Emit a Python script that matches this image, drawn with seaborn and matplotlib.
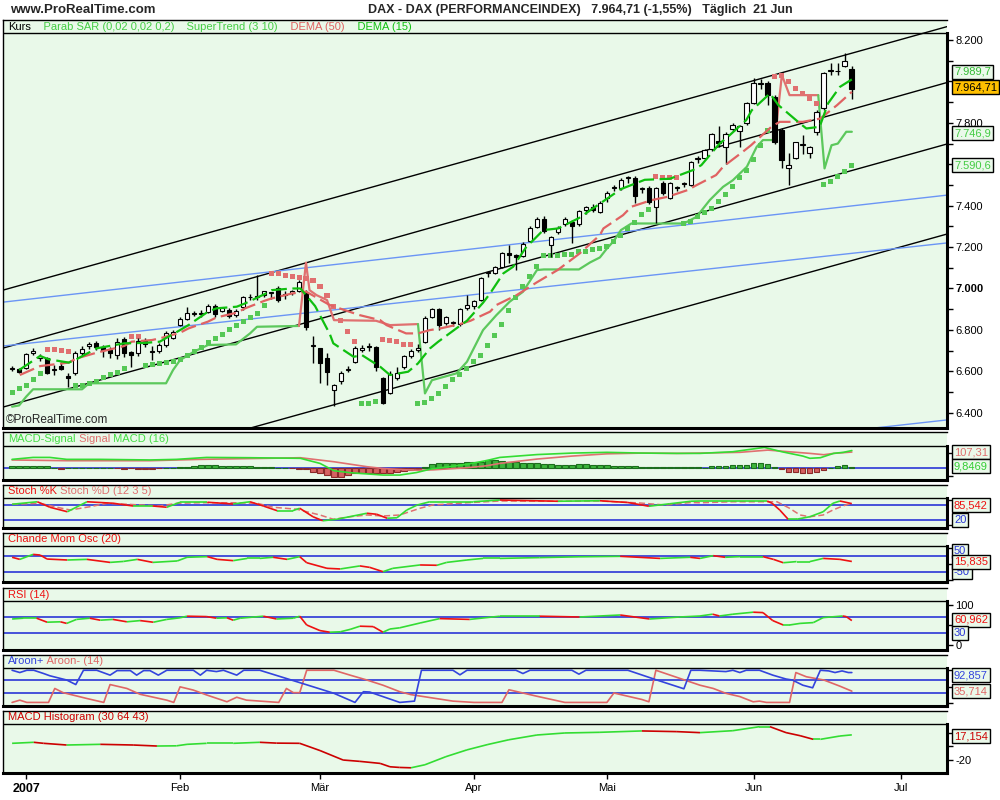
import numpy as np
import pandas as pd
import seaborn as sns
import matplotlib.pyplot as plt
from matplotlib.collections import LineCollection

# ---- candles, one per trading day: index 0 = 28 Dec 2006 ... index 120 = 21 Jun 2007
opens = [6610, 6612, 6616, 6690, 6662, 6664, 6606, 6625, 6577, 6590,
         6688, 6722, 6737, 6717, 6702, 6679, 6755, 6693, 6690, 6745,
         6692, 6700, 6725, 6762, 6823, 6852, 6877, 6877, 6886, 6915,
         6891, 6895, 6872, 6910, 6957, 6958, 6968, 6977, 7002, 6967,
         6980, 6990, 6983, 6722, 6712, 6664, 6509, 6553, 6605, 6645,
         6705, 6722, 6717, 6567, 6495, 6567, 6620, 6673, 6705, 6741,
         6862, 6900, 6833, 6833, 6828, 6905, 6915, 6944, 7075, 7075,
         7104, 7170, 7160, 7157, 7230, 7295, 7335, 7210, 7275, 7310,
         7320, 7310, 7380, 7392, 7370, 7437, 7485, 7485, 7533, 7533,
         7480, 7485, 7393, 7509, 7437, 7485, 7504, 7500, 7625, 7630,
         7673, 7712, 7683, 7770, 7760, 7800, 7896, 7987, 7992, 7925,
         7765, 7582, 7630, 7693, 7655, 7755, 7870, 8050, 8050, 8075,
         8060]
highs = [6625, 6618, 6690, 6712, 6685, 6670, 6630, 6645, 6590, 6700,
         6720, 6740, 6745, 6725, 6715, 6760, 6765, 6700, 6760, 6760,
         6720, 6735, 6795, 6800, 6860, 6910, 6890, 6895, 6925, 6925,
         6910, 6905, 6900, 6965, 6975, 7065, 6990, 6985, 7010, 6990,
         6995, 7040, 6995, 6770, 6712, 6690, 6540, 6600, 6625, 6720,
         6725, 6735, 6720, 6570, 6600, 6620, 6680, 6710, 6730, 6865,
         6905, 6905, 6865, 6845, 6905, 6968, 6945, 7055, 7085, 7110,
         7175, 7210, 7165, 7225, 7300, 7345, 7350, 7255, 7300, 7345,
         7330, 7380, 7400, 7410, 7425, 7470, 7500, 7535, 7545, 7545,
         7490, 7495, 7490, 7520, 7515, 7495, 7515, 7615, 7640, 7675,
         7750, 7785, 7755, 7800, 7790, 7900, 8016, 8010, 8000, 7935,
         7775, 7654, 7710, 7740, 7690, 7860, 8045, 8090, 8090, 8137,
         8075]
lows = [6600, 6590, 6610, 6680, 6650, 6585, 6580, 6605, 6524, 6580,
        6680, 6710, 6705, 6670, 6665, 6660, 6670, 6620, 6675, 6715,
        6655, 6690, 6715, 6755, 6820, 6848, 6865, 6862, 6880, 6860,
        6885, 6855, 6860, 6895, 6945, 6945, 6960, 6950, 6935, 6950,
        6970, 6985, 6800, 6640, 6543, 6533, 6432, 6540, 6595, 6640,
        6695, 6700, 6600, 6440, 6490, 6560, 6612, 6665, 6695, 6735,
        6855, 6800, 6825, 6820, 6820, 6896, 6900, 6940, 7055, 7068,
        7100, 7123, 7089, 7150, 7225, 7290, 7270, 7152, 7265, 7300,
        7220, 7300, 7360, 7370, 7365, 7420, 7470, 7475, 7510, 7413,
        7460, 7410, 7316, 7450, 7430, 7470, 7490, 7495, 7605, 7625,
        7665, 7683, 7600, 7760, 7683, 7790, 7890, 7965, 7886, 7700,
        7580, 7500, 7625, 7650, 7630, 7740, 7860, 8030, 8030, 8070,
        7915]
closes = [6612, 6597, 6683, 6700, 6673, 6592, 6608, 6611, 6567, 6688,
          6707, 6732, 6717, 6702, 6688, 6741, 6690, 6678, 6745, 6730,
          6693, 6725, 6785, 6790, 6852, 6881, 6878, 6879, 6915, 6877,
          6905, 6868, 6893, 6958, 6960, 6960, 6987, 6978, 6944, 6968,
          6988, 7030, 6815, 6723, 6640, 6597, 6533, 6592, 6612, 6712,
          6712, 6715, 6620, 6446, 6587, 6592, 6673, 6700, 6712, 6857,
          6900, 6823, 6862, 6834, 6900, 6918, 6940, 7050, 7076, 7104,
          7171, 7162, 7152, 7215, 7290, 7335, 7280, 7248, 7290, 7335,
          7300, 7372, 7392, 7380, 7413, 7461, 7486, 7524, 7534, 7447,
          7481, 7418, 7485, 7461, 7509, 7486, 7505, 7611, 7626, 7670,
          7746, 7702, 7746, 7790, 7785, 7896, 7992, 7988, 7934, 7707,
          7620, 7596, 7707, 7694, 7683, 7852, 8040, 8051, 8049, 8100,
          7965]

# Parabolic SAR, one value per candle
sar = [6498, 6517, 6530, 6558, 6590, 6703, 6703, 6700, 6695, 6530,
       6530, 6542, 6550, 6569, 6585, 6593, 6614, 6767, 6767, 6630,
       6633, 6638, 6642, 6646, 6658, 6674, 6695, 6716, 6738, 6759,
       6780, 6803, 6820, 6840, 6859, 6880, 6920, 7073, 7073, 7065,
       7060, 7055, 7050, 7040, 7008, 6965, 6912, 6847, 6791, 6743,
       6442, 6445, 6455, 6754, 6750, 6745, 6727, 6727, 6445, 6448,
       6469, 6493, 6525, 6561, 6585, 6614, 6646, 6678, 6723, 6775,
       6828, 6892, 6955, 7010, 7060, 7105, 7161, 7161, 7161, 7163,
       7166, 7177, 7181, 7187, 7193, 7205, 7226, 7258, 7290, 7319,
       7358, 7382, 7543, 7536, 7535, 7536, 7314, 7325, 7346, 7365,
       7385, 7418, 7456, 7494, 7536, 7572, 7625, 7692, 7762, 8023,
       8031, 7998, 7966, 7942, 7918, 7895, 7504, 7515, 7539, 7567,
       7596]

# SuperTrend (3 10), split where it flips side
st_green1_x = [0, 1, 2, 3, 10, 11, 22, 23, 24, 26, 28, 32, 34, 35, 41]
st_green1_y = [6429, 6435, 6477, 6513, 6513, 6542, 6542, 6606, 6654, 6695, 6727, 6730, 6783, 6815, 6819]
st_pink1_x = [41, 42, 42.5, 43.5, 45, 46, 52, 54, 58]
st_pink1_y = [6819, 7125, 6992, 6968, 6944, 6847, 6844, 6823, 6828]
st_green2_x = [58, 59, 60, 63.5, 65, 67.3, 69.2, 71.1, 73, 75, 76, 81, 82.6, 84, 85, 86, 87,
               88.5, 96, 97.8, 99.7, 101.6, 103, 105, 106.4, 107.3, 109]
st_green2_y = [6828, 6493, 6557, 6590, 6646, 6799, 6871, 6936, 6984, 7089, 7092, 7092, 7126, 7150, 7193, 7230, 7282,
               7314, 7314, 7346, 7427, 7491, 7523, 7588, 7684, 7717, 7717]
st_pink2_x = [109, 110, 111.1, 115.2]
st_pink2_y = [7717, 8031, 7934, 7934]
st_green3_x = [115.2, 116.1, 117.1, 118, 119.2, 120]
st_green3_y = [7934, 7580, 7692, 7700, 7757, 7757]

# DEMA (15) and DEMA (50)
dema15_x = [1, 4, 5.2, 8.1, 9.2, 12.1, 16, 19, 21.1, 24, 25.2, 28, 29.2, 32.1, 33.3, 36.1, 37.1, 40, 41.2, 43.3,
            45.4, 45.9, 48.8, 50, 52.6, 54, 56.6, 58, 59.7, 60.9, 63.8, 65, 67.3, 68.3, 70.2, 71.6, 73.5, 74.5,
            75.9, 78, 81, 84, 87, 90.4, 94, 97.3, 98.5, 101.1, 102.3, 104.9, 105.7, 108.3, 109.5, 112.6, 113.5,
            115.4, 116.6, 118.3, 120]
dema15_y = [6606, 6674, 6658, 6642, 6658, 6711, 6735, 6737, 6743, 6799, 6823, 6888, 6904, 6912, 6928, 6973, 6992,
            7000, 7000, 6915, 6780, 6735, 6670, 6678, 6622, 6582, 6598, 6638, 6710, 6743, 6815, 6844, 6931, 6976,
            7073, 7105, 7202, 7234, 7282, 7290, 7340, 7410, 7480, 7525, 7530, 7572, 7596, 7700, 7733, 7813, 7861,
            7942, 7886, 7797, 7773, 7781, 7894, 7974, 8010]
dema50_x = [1.1, 4, 5.2, 8.1, 9.2, 12.1, 16, 17.1, 20, 21.1, 24, 25.2, 28, 29.2, 32.1, 33.3, 36.1, 37.1, 40, 42,
            45.4, 48, 49.7, 52.6, 53.5, 56.3, 58, 59.7, 61.2, 64, 65.5, 68.3, 69.2, 72.1, 75, 78, 81.1, 84, 84.5,
            87.3, 88.5, 91.4, 93.7, 96.5, 97.8, 100.6, 101.6, 104.4, 105.6, 108.5, 109.7, 113, 115.5, 117.9, 120]
dema50_y = [6582, 6625, 6630, 6642, 6662, 6690, 6722, 6743, 6751, 6759, 6786, 6807, 6840, 6860, 6883, 6904, 6941,
            6952, 6976, 6985, 6920, 6890, 6871, 6847, 6823, 6783, 6783, 6799, 6807, 6828, 6844, 6888, 6920, 6968,
            7030, 7090, 7169, 7258, 7290, 7354, 7395, 7427, 7443, 7475, 7499, 7548, 7588, 7660, 7692, 7781, 7805,
            7805, 7821, 7886, 7950]

# drawn trend channels: value at the left edge and at the right edge
trend_x = [-1.3, 133.6]
black_lines = [(6992, 8265), (6712, 7995), (6427, 7698), (5993, 7263)]
blue_lines = [(6934, 7451), (6722, 7220), (5857, 6365)]

# MACD (16)
macd_x = [0, 3, 5.4, 7.8, 12.6, 19.7, 23.5, 27.8, 34, 41.2, 44, 46, 48.3, 53, 55.4, 57.8, 60, 62.6, 65, 67.8,
          69.7, 75, 80, 85, 90, 95, 98.3, 103, 107.5, 110, 113, 114, 115.5, 117.4, 118.8, 120]
macd_y = [58, 71, 71, 58, 58, 54, 58, 71, 69, 65, 31, -18, -31, -47, -47, -30, -5, 10, 25, 50,
          71, 90, 100, 105, 100, 98, 98, 109, 138, 109, 80, 65, 69, 98, 105, 117]
signal_x = [0, 7.8, 19.7, 26.9, 36.4, 41.2, 46, 50.7, 53, 55.4, 58, 60.2, 62.6, 65, 67.8, 69.7, 75, 80, 85, 90,
            95, 98.3, 104, 108, 111, 114, 116, 117.4, 120]
signal_y = [54, 49, 49, 58, 65, 69, 42, 9, -3, -10, -15, -12, -5, 2, 15, 31, 60, 80, 95, 100,
            98, 100, 105, 120, 109, 98, 89, 98, 107]
macd_hist = [12, 12, 15, 15, 15, 12, 1, -7, 1, 1, 2, 2, 1, 1, 0, -1,
             -7, -1, -7, -7, -7, -1, 1, 1,
             9, 9, 12, 18, 20, 20, 15, 13, 12, 12, 12, 10, 9, 9,
             2, 1, -2, -4,
             -9, -25, -36, -47, -58, -58, -47, -36, -31, -31, -36, -36, -31, -25, -20, -13, -7,
             9, 27, 31, 31, 31, 31, 38, 38, 42, 54, 54, 45,
             40, 38, 36, 35, 33, 30, 25, 22, 20, 22, 24, 25, 23, 20, 18, 16, 15, 14, 12, 9,
             6, 5, 4, 5, 7, 9, 10, 6, 2,
             13, 13, 13, 20, 20, 20, 31, 36, 27, 9, -4, -25, -25, -31, -31, -25, -13, 0, 11, 18, 9.85]

# Stochastic (12 3 5)
stk_x = [0, 3.6, 5.4, 7.9, 10.7, 14.4, 17.3, 20.1, 22.1, 24, 27.9, 31.6, 34, 35.9, 37.9, 40.1, 41.1, 43, 44.4,
         46.4, 50.7, 52.1, 53.6, 55, 56.4, 57.9, 59.7, 62.6, 65.9, 69.7, 78, 84, 88, 91, 94, 97, 98.3, 107.9,
         108.6, 109.7, 110.9, 112.1, 114, 115.9, 117.3, 118.3, 120]
stk_y = [83, 93, 71, 53, 93, 87, 76, 76, 71, 91, 91, 84, 93, 76, 57, 57, 67, 33, 17, 23, 47, 43, 27, 29, 60, 80,
         93, 93, 93, 100, 95, 97, 90, 75, 85, 95, 96, 96, 87, 60, 23, 23, 33, 53, 87, 96, 85.5]
std_x = [0, 4, 6.4, 8.3, 11.1, 13.6, 16.4, 21.1, 23.6, 26.9, 31.6, 35, 37.3, 40.7, 42.1, 44, 45.9, 48.3, 50.7,
         53, 55.4, 58.3, 60.1, 65, 69.7, 78, 84, 89.7, 93.3, 97, 98.3, 103, 107.9, 109.3, 111.1, 112.6, 114,
         115.9, 117.3, 118.7, 120]
std_y = [83, 87, 71, 60, 73, 87, 83, 76, 87, 89, 89, 87, 71, 63, 53, 40, 23, 33, 40, 36, 40, 67, 80, 89, 96,
         95, 96, 88, 80, 90, 89, 93, 93, 93, 67, 40, 33, 40, 60, 76, 87]

# Chande Momentum Oscillator (20)
cmo_x = [0, 1.1, 3, 4, 5, 7.9, 10.7, 14, 15.9, 17.9, 20.1, 23.6, 25, 27.9, 29.3, 31.6, 33.6, 35.4, 37.3, 39.3,
         41.1, 42.1, 45, 46.9, 49.7, 51.1, 53, 54.4, 58.3, 60.7, 62.1, 65, 67.3, 69.7, 75.4, 81, 86.9, 92.6,
         96.9, 98.3, 100.2, 101.9, 104, 107.3, 108.8, 110.2, 112.1, 114, 115.9, 118.3, 120]
cmo_y = [42, 29, 60, 56, 31, 25, 29, 10, 16, 29, 10, 19, 42, 46, 29, 21, 35, 35, 42, 29, 46, 8, -27, -31, -12,
         -21, -48, -27, -6, -8, 10, 25, 35, 35, 40, 45, 48, 35, 42, 35, 52, 42, 46, 46, 29, 8, 15, 15, 35, 29,
         15.8]

# RSI (14)
rsi_x = [0, 1.6, 3.5, 5, 6.9, 7.8, 9.2, 11.1, 12.6, 14.4, 16.4, 18.3, 20.2, 22.1, 24, 25, 27.8, 29.2, 30.7,
         31.6, 32.6, 35.9, 37.8, 40.2, 41.1, 42.1, 44, 45.4, 46.9, 48.3, 49.7, 51.6, 53, 54, 55.4, 58.3, 61.1,
         65.4, 69.7, 75.4, 81.1, 86.9, 91.1, 95.4, 98.3, 100.1, 101.1, 103, 105.9, 107.3, 108.7, 110.2, 111.1,
         112.6, 114.5, 115.9, 118.7, 119.2, 120]
rsi_y = [65, 67, 67, 57, 58, 54, 64, 67, 62, 64, 58, 61, 57, 64, 68, 72, 71, 67, 68, 62, 67, 72, 65, 67, 72,
         50, 36, 32, 33, 39, 47, 46, 32, 40, 43, 55, 66, 64, 72, 72, 70, 75, 65, 70, 72.5, 77, 72.5, 77, 82,
         81, 61, 50, 50, 54, 56, 68.5, 72.5, 71, 61]

# Aroon (14)
aup_x = [0, 1.1, 2.1, 3.1, 4.5, 5.4, 7.8, 9.1, 10.2, 12.1, 14, 15, 16.9, 17.8, 18.8, 19.7, 20.9, 22.1, 25.9,
         26.9, 27.8, 29.2, 30.2, 32.1, 33.1, 35.4, 41.1, 46, 49, 50.2, 51.1, 55.4, 57.5, 58.5, 63, 64, 65, 72,
         73, 74, 80, 81, 82, 88, 92, 96, 97, 98.3, 102, 103, 104, 104.9, 106.8, 108.7, 110.6, 111.5, 113,
         114.4, 115.5, 116.7, 117.6, 118.6, 119.5, 120]
aup_y = [100, 93, 100, 100, 90, 83, 70, 56, 100, 100, 85, 99, 99, 85, 99, 99, 85, 100, 100, 85, 100, 96, 100,
         85, 100, 100, 62, 29, 1, 34, 33, 1, 5, 100, 100, 86, 100, 100, 90, 100, 100, 88, 100, 100, 71, 43,
         100, 100, 96, 100, 93, 100, 100, 85, 73, 70, 54, 46, 100, 98, 93, 98, 93, 93]
adn_x = [0, 1.1, 2.1, 5.2, 6.1, 7.3, 9.2, 10.7, 13.1, 14, 16.4, 18.3, 22.1, 23.1, 24, 25.9, 27.8, 30.7, 32.1,
         33.5, 38.1, 39.2, 40.2, 41.1, 42.1, 46, 48.3, 50.7, 53, 55.4, 57, 60, 63, 66, 70, 71, 75, 79, 85, 86,
         90, 91, 92, 98.3, 100.2, 102, 104, 105.9, 106.8, 107.8, 111.1, 112, 113.5, 116, 118.3, 120]
adn_y = [1, 8, 1, 1, 44, 31, 21, 13, 1, 56, 44, 26, 8, 1, 49, 39, 24, 3, 17, 8, 1, 44, 31, 31, 100, 100, 85,
         70, 54, 34, 25, 15, 5, 1, 1, 40, 20, 1, 1, 30, 10, 3, 100, 54, 44, 29, 19, 3, 5, 1, 1, 93, 80, 70,
         51, 35.7]

# MACD Histogram (30 64 43)
mh_x = [0, 3.1, 4.5, 7.8, 12.6, 17.3, 20.7, 23.5, 25, 27.8, 31.6, 35.4, 37.8, 41.1, 44, 47.3, 49.7, 52.6, 54,
        55.4, 57, 59, 62, 65, 68, 71, 75, 79, 84, 90, 95, 98.3, 103, 106.8, 108.3, 110.6, 112.6, 114.5, 115.5,
        118.3, 120]
mh_y = [4.7, 6.2, 4.7, 2.2, 3.2, 2.2, 0.7, 1, 3.2, 4.7, 4.7, 6.2, 5, 4.7, -6, -20, -22, -25, -30, -31, -31.5,
        -27, -15, -5, 3, 10, 17, 20, 21, 23, 22, 20.5, 23.4, 29.3, 29.3, 20.5, 16, 10.6, 10.6, 15.5, 17.2]

month_pos = [2, 24, 44, 66, 85, 106, 127]
month_labels = ["2007", "Feb", "Mär", "Apr", "Mai", "Jun", "Jul"]

# ---------------- style ----------------
sns.set_style("white")
plt.rcParams["font.family"] = ["Liberation Sans", "DejaVu Sans"]

BG = "#e9f9e9"
GREEN = "#33dd33"
RED = "#ee1111"
PINK = "#e07070"
BLUE = "#2b36d6"
LGREEN = "#5cc85c"
XLIM = (-1.3, 133.6)
W, H = 1000, 800

fig = plt.figure(figsize=(10, 8), dpi=100)
fig.patch.set_facecolor("white")


def panel(top, bottom, ylo, yhi, strip):
    ax = fig.add_axes([3 / W, 1 - bottom / H, 944 / W, (bottom - top) / H])
    ax.set_facecolor(BG)
    ax.axhline(strip, color="black", lw=1, zorder=6)
    for side, lw in (("left", 1), ("top", 1), ("right", 2.2), ("bottom", 2.2)):
        ax.spines[side].set_visible(True)
        ax.spines[side].set_color("black")
        ax.spines[side].set_linewidth(lw)
    ax.spines["right"].set_bounds(ylo, strip)
    ax.yaxis.tick_right()
    ax.tick_params(axis="y", which="both", direction="out", length=4, width=1,
                   labelsize=8, pad=2, colors="black", right=True, left=False)
    ax.tick_params(axis="x", bottom=False, labelbottom=False)
    ax.lims = (ylo, yhi)
    return ax


def finish(ax):
    ax.set_xlim(*XLIM)
    ax.set_ylim(*ax.lims)
    ax.set_xlabel("")
    ax.set_ylabel("")
    ax.grid(False)


def strip_label(ax, ypix, pieces):
    t = fig.text(8 / W, 1 - ypix / H, pieces[0][0], color=pieces[0][1], fontsize=8, va="center", ha="left")
    for txt, col in pieces[1:]:
        t = ax.annotate(txt, xy=(1, 0), xycoords=t, va="bottom", ha="left", fontsize=8,
                        color=col, annotation_clip=False)


def value_box(ax, y, txt, col, fc="#eaf9ea"):
    ax.annotate(txt, xy=(1, y), xycoords=ax.get_yaxis_transform(), xytext=(5, 0),
                textcoords="offset points", ha="left", va="center", fontsize=8, color=col,
                annotation_clip=False, zorder=10,
                bbox=dict(boxstyle="square,pad=0.18", fc=fc, ec="black", lw=1))


def updown(ax, xs, ys, up=GREEN, down=RED, lw=1.2):
    pts = np.column_stack([xs, ys])
    segs = np.stack([pts[:-1], pts[1:]], axis=1)
    cols = [up if b >= a else down for a, b in zip(ys[:-1], ys[1:])]
    ax.add_collection(LineCollection(segs, colors=cols, linewidths=lw, zorder=3))


def line(ax, xs, ys, color, lw=1.2, **kw):
    sns.lineplot(x=xs, y=ys, color=color, lw=lw, estimator=None, ax=ax, **kw)


# ---------------- main price panel ----------------
ax = panel(20, 428, 6326, 8297, 8234)
for a, b in black_lines:
    line(ax, trend_x, [a, b], "black", lw=1)
for a, b in blue_lines:
    line(ax, trend_x, [a, b], "#6b95f5", lw=1)

for xs, ys, c in ((st_green1_x, st_green1_y, LGREEN), (st_pink1_x, st_pink1_y, PINK),
                  (st_green2_x, st_green2_y, LGREEN), (st_pink2_x, st_pink2_y, PINK),
                  (st_green3_x, st_green3_y, LGREEN)):
    line(ax, xs, ys, c, lw=1.6)

df = pd.DataFrame({"o": opens, "h": highs, "l": lows, "c": closes, "sar": sar})
df["i"] = np.arange(len(df))
df["side"] = np.where(df["sar"] < df["c"], "up", "down")
sns.scatterplot(data=df, x="i", y="sar", hue="side", palette={"up": "#55c855", "down": PINK},
                marker="s", s=13, linewidth=0, legend=False, ax=ax, zorder=3)

up = df["c"] >= df["o"]
body_lo = np.minimum(df["o"], df["c"])
body_h = np.maximum((df["c"] - df["o"]).abs(), 4)
ax.vlines(df["i"], df["l"], df["h"], color="black", lw=1, zorder=4)
ax.bar(df["i"], body_h, bottom=body_lo, width=0.68, color=np.where(up, "white", "black"),
       edgecolor="black", linewidth=0.8, zorder=4.5)

line(ax, dema50_x, dema50_y, "#e06262", lw=1.6, linestyle=(0, (7, 2.5)), zorder=5)
line(ax, dema15_x, dema15_y, "#0fbf0f", lw=1.6, linestyle=(0, (7, 2.5)), zorder=5)

# 8.000 and 7.600 sit behind the value boxes in the reference, so they carry no label
main_ticks = list(range(6400, 8201, 200))
main_labels = ["" if v in (8000, 7600) else f"{v:,}".replace(",", ".") for v in main_ticks]
ax.set_yticks(main_ticks)
ax.set_yticklabels(main_labels)
ax.set_yticks(list(range(6400, 8201, 100)), minor=True)
for lab in ax.get_yticklabels():
    if lab.get_text() == "7.000":
        lab.set_fontweight("bold")
finish(ax)
strip_label(ax, 26.5, [("Kurs", "black"), ("    Parab SAR (0,02 0,02 0,2)", "#44cc44"),
                       ("    SuperTrend (3 10)", "#44cc44"), ("    DEMA (50)", "#e06262"),
                       ("    DEMA (15)", "#11c011")])
fig.text(6 / W, 1 - 420 / H, "©ProRealTime.com", fontsize=8.5, va="center", ha="left")
value_box(ax, 8047, "7.989,7", "#33bb33")
value_box(ax, 7973, "7.964,71", "black", fc="#ffc000")
value_box(ax, 7751, "7.746,9", "#44cc44")
value_box(ax, 7596, "7.590,6", "#44cc44")

# ---------------- MACD ----------------
ax = panel(432, 480, -80, 241, 147)
ax.axhline(0, color=BLUE, lw=1.2, zorder=1)
hist = np.array(macd_hist)
ax.bar(np.arange(len(hist)), hist, width=0.75, color=np.where(hist >= 0, "#3cb43c", "#d66262"),
       edgecolor=np.where(hist >= 0, "#1c6e1c", "#8a2a2a"), linewidth=0.8, zorder=2)
line(ax, signal_x, signal_y, PINK, lw=1.2, zorder=3)
line(ax, macd_x, macd_y, GREEN, lw=1.2, zorder=3)
ax.set_yticks([100, -50])
ax.set_yticklabels([])
finish(ax)
strip_label(ax, 439, [("MACD-Signal", "#44dd44"), (" Signal", PINK), (" MACD (16)", "#44dd44")])
value_box(ax, 107, "107,31", PINK)
value_box(ax, 13, "9,8469", "#33cc33")

# ---------------- Stochastic ----------------
ax = panel(485, 528, -12, 160, 108)
for lvl in (80, 20):
    ax.axhline(lvl, color=BLUE, lw=1.2, zorder=1)
line(ax, std_x, std_y, PINK, lw=1.1, linestyle=(0, (4, 2)), zorder=2)
updown(ax, stk_x, stk_y)
ax.set_yticks([100, 0])
ax.set_yticklabels([])
finish(ax)
strip_label(ax, 491.5, [("Stoch %K", RED), (" Stoch %D (12 3 5)", PINK)])
value_box(ax, 80, "85,542", RED)
value_box(ax, 20, "20", BLUE)

# ---------------- Chande ----------------
ax = panel(533, 582, -112.5, 193.75, 112.5)
for lvl in (50, -50):
    ax.axhline(lvl, color=BLUE, lw=1.2, zorder=1)
updown(ax, cmo_x, cmo_y)
ax.set_yticks([100, 0, -100])
ax.set_yticklabels([])
finish(ax)
strip_label(ax, 539.5, [("Chande Mom Osc (20)", RED)])
value_box(ax, 81, "50", BLUE)
value_box(ax, -50, "-50", BLUE)
value_box(ax, 12.5, "15,835", RED)

# ---------------- RSI ----------------
ax = panel(588, 650, -12.5, 142.5, 110)
for lvl in (70, 30):
    ax.axhline(lvl, color=BLUE, lw=1.2, zorder=1)
updown(ax, rsi_x, rsi_y)
ax.set_yticks([100, 50, 0])
ax.set_yticklabels(["100", "", "0"])
finish(ax)
strip_label(ax, 594.5, [("RSI (14)", RED)])
value_box(ax, 62.5, "60,962", RED)
value_box(ax, 30, "30", BLUE)

# ---------------- Aroon ----------------
ax = panel(655, 706, -10, 147, 107)
for lvl in (70, 30):
    ax.axhline(lvl, color=BLUE, lw=1.2, zorder=1)
line(ax, adn_x, adn_y, "#e06666", lw=1.2, zorder=2)
line(ax, aup_x, aup_y, "#3344dd", lw=1.2, zorder=3)
ax.set_yticks([100, 50, 0])
ax.set_yticklabels([])
finish(ax)
strip_label(ax, 661.5, [("Aroon+", "#3344dd"), (" Aroon- (14)", "#e06666")])
value_box(ax, 85.4, "92,857", "#3344dd")
value_box(ax, 36, "35,714", "#e06666")

# ---------------- MACD Histogram ----------------
ax = panel(711, 773, -39.2, 52.5, 33.3)
updown(ax, mh_x, mh_y, up=GREEN, down="#cc0000")
ax.set_yticks([20, 0, -20])
ax.set_yticklabels(["", "", "-20"])
finish(ax)
ax.set_xticks(month_pos)
ax.set_xticklabels(month_labels)
ax.tick_params(axis="x", bottom=True, labelbottom=True, direction="out", length=4.5, width=1,
               labelsize=8, pad=3, colors="black")
xl = ax.get_xticklabels()
xl[0].set_fontweight("bold")
xl[0].set_fontsize(9)
strip_label(ax, 717.5, [("MACD Histogram (30 64 43)", "#cc0000")])
value_box(ax, 15.5, "17,154", "#cc0000")

# ---------------- header ----------------
fig.text(10 / W, 1 - 10 / H, "www.ProRealTime.com", fontsize=9.5, fontweight="bold", va="center", ha="left")
fig.text(368 / W, 1 - 10 / H, "DAX - DAX (PERFORMANCEINDEX)   7.964,71 (-1,55%)   Täglich  21 Jun",
         fontsize=9, fontweight="bold", va="center", ha="left")

fig.savefig("out.png", dpi=100)
